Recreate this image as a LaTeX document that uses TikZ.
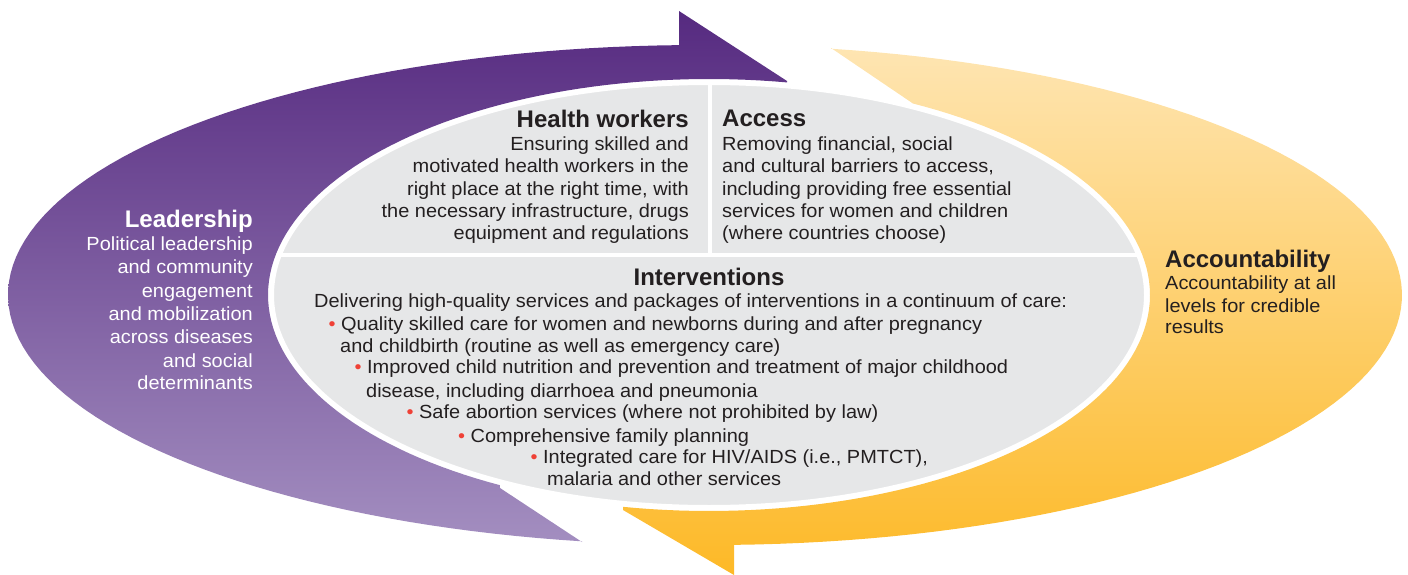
\documentclass[tikz,border=0pt]{standalone}
\usepackage{fontspec}
\setmainfont{Liberation Sans}
\newfontfamily\bodyfont{Liberation Sans}[FakeStretch=1.05]
\definecolor{purpledark}{RGB}{86,42,128}
\definecolor{purplelight}{RGB}{163,142,192}
\definecolor{goldlight}{RGB}{254,229,178}
\definecolor{golddark}{RGB}{253,185,39}
\definecolor{ovalgray}{RGB}{230,231,232}
\definecolor{inkdark}{RGB}{35,31,32}
\definecolor{dotred}{RGB}{239,65,54}
\newcommand{\reddot}{\textcolor{dotred}{\textbullet}\hspace{5.5pt}}
\begin{document}
\begin{tikzpicture}[x=1pt,y=-1pt,
	txt/.style={inner sep=0pt,text=inkdark,font=\bodyfont\fontsize{19}{22}\selectfont},
	head/.style={inner sep=0pt,text=inkdark,font=\fontsize{24}{28}\selectfont\bfseries}]
	\useasboundingbox (0,0) rectangle (1408,575);
	\shade[top color=purpledark,bottom color=purplelight] (787,81) -- (679,11) -- (679,47)
		-- plot[domain=268.26:99.8,samples=90] ({700+692*cos(\x)},{295+250*sin(\x)})
		-- (582,542) -- (500,488)
		-- plot[domain=118.3:280.19,samples=90] ({709+441*cos(\x)},{295+216*sin(\x)}) -- cycle;
	\shade[top color=goldlight,bottom color=golddark] (831,48)
		-- plot[domain=279.93:448.17,samples=90] ({712+690*cos(\x)},{295+250*sin(\x)})
		-- (734,575) -- (623,510)
		-- plot[domain=101.24:-62.45,samples=90] ({709+441*cos(\x)},{295+216*sin(\x)}) -- cycle;
	\filldraw[fill=ovalgray,draw=white,line width=4pt] (709,295) ellipse (437 and 212);
	\begin{scope}
		\clip (709,295) ellipse (437 and 212);
		\draw[white,line width=4pt] (260,255) -- (1160,255);
		\draw[white,line width=4pt] (710,70) -- (710,255);
	\end{scope}
	\node[head,anchor=base east] (hwt) at (689,128) {Health workers};
	\node[txt,anchor=base east] (hw1) at (689,150) {Ensuring skilled and};
	\node[txt,anchor=base east] (hw2) at (689,172) {motivated health workers in the};
	\node[txt,anchor=base east] (hw3) at (689,195) {right place at the right time, with};
	\node[txt,anchor=base east] (hw4) at (689,217) {the necessary infrastructure, drugs};
	\node[txt,anchor=base east] (hw5) at (689,239) {equipment and regulations};
	\node[head,anchor=base west] (act) at (722,127) {Access};
	\node[txt,anchor=base west] (ac1) at (722,150) {Removing financial, social};
	\node[txt,anchor=base west] (ac2) at (722,172) {and cultural barriers to access,};
	\node[txt,anchor=base west] (ac3) at (722,195) {including providing free essential};
	\node[txt,anchor=base west] (ac4) at (722,217) {services for women and children};
	\node[txt,anchor=base west] (ac5) at (722,239) {(where countries choose)};
	\node[head,anchor=base] (ivt) at (709,285) {Interventions};
	\node[txt,anchor=base west] (iv0) at (314,307) {Delivering high-quality services and packages of interventions in a continuum of care:};
	\node[txt,anchor=base west] (iv1) at (328.5,330) {\reddot Quality skilled care for women and newborns during and after pregnancy};
	\node[txt,anchor=base west] (iv1b) at (340,352) {and childbirth (routine as well as emergency care)};
	\node[txt,anchor=base west] (iv2) at (354.5,373) {\reddot Improved child nutrition and prevention and treatment of major childhood};
	\node[txt,anchor=base west] (iv2b) at (366,397) {disease, including diarrhoea and pneumonia};
	\node[txt,anchor=base west] (iv3) at (406.5,418) {\reddot Safe abortion services (where not prohibited by law)};
	\node[txt,anchor=base west] (iv4) at (458,442) {\reddot Comprehensive family planning};
	\node[txt,anchor=base west] (iv5) at (530.5,463) {\reddot Integrated care for HIV/AIDS (i.e., PMTCT),};
	\node[txt,anchor=base west] (iv5b) at (547,485) {malaria and other services};
	\node[head,anchor=base east,text=white] (ldt) at (253,227) {Leadership};
	\node[txt,anchor=base east,text=white] (ld1) at (253,250) {Political leadership};
	\node[txt,anchor=base east,text=white] (ld2) at (253,273) {and community};
	\node[txt,anchor=base east,text=white] (ld3) at (253,297) {engagement};
	\node[txt,anchor=base east,text=white] (ld4) at (253,320) {and mobilization};
	\node[txt,anchor=base east,text=white] (ld5) at (253,343) {across diseases};
	\node[txt,anchor=base east,text=white] (ld6) at (253,367) {and social};
	\node[txt,anchor=base east,text=white] (ld7) at (253,389) {determinants};
	\node[head,anchor=base west] (aut) at (1165,267) {Accountability};
	\node[txt,anchor=base west] (au1) at (1165,289) {Accountability at all};
	\node[txt,anchor=base west] (au2) at (1165,312) {levels for credible};
	\node[txt,anchor=base west] (au3) at (1165,333) {results};
\end{tikzpicture}
\end{document}
